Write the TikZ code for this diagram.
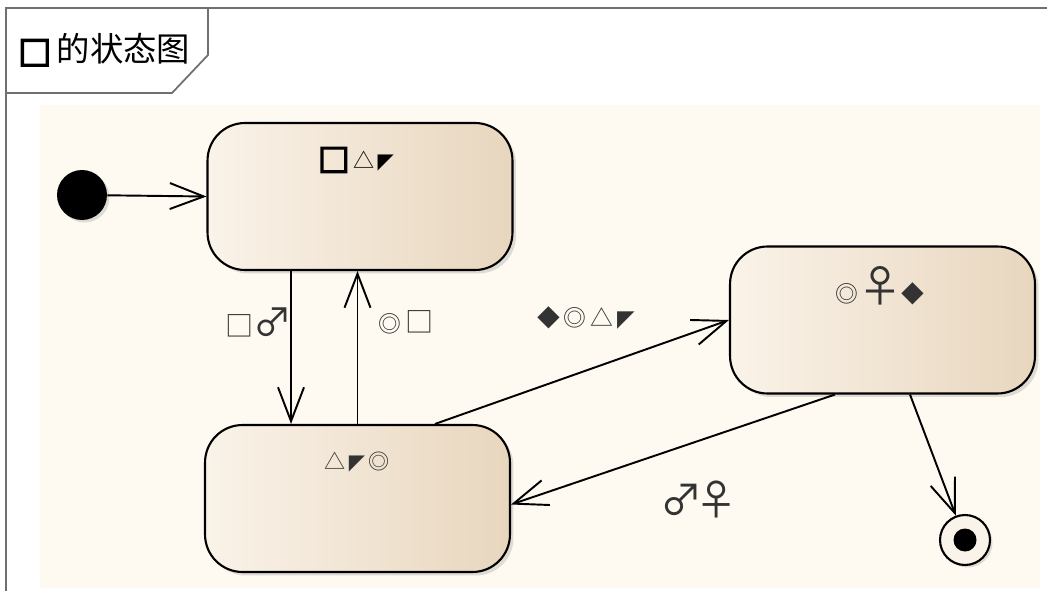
\documentclass[tikz,border=0pt]{standalone}
\usepackage{fontspec}
\usepackage{tikz}
\usetikzlibrary{arrows.meta,shadows}
\newfontfamily\cjk{Noto Sans CJK SC}
\newfontfamily\sym{DejaVu Sans}
\newfontfamily\symbold[FakeBold=4]{DejaVu Sans}
\definecolor{paper}{HTML}{FEFAF2}
\definecolor{stateL}{HTML}{FAF3E9}
\definecolor{stateR}{HTML}{E8D6BE}
\definecolor{frame}{HTML}{707070}

\begin{document}
\begin{tikzpicture}[x=0.02cm,y=-0.02cm,
  state/.style={draw,line width=1.2pt,rounded corners=0.75cm,minimum width=6.1cm,minimum height=2.94cm,
    left color=stateL,right color=stateR,
    drop shadow={shadow xshift=0.07cm,shadow yshift=-0.07cm,opacity=0.25}},
  trans/.style={line width=1.1pt,-{Straight Barb[length=0.68cm,width=0.52cm,line width=1.1pt]}},
  lbl/.style={font=\cjk\fontsize{16}{18}\selectfont,inner sep=1pt,text=black!80}]
  \useasboundingbox (0,0) rectangle (1047,591);
  \fill[white] (0,0) rectangle (1047,591);
  \fill[paper] (40,105) rectangle (1040,588);
  \draw[frame,line width=1pt] (6,591) -- (6,8) -- (1047,8);
  \draw[frame,line width=1pt] (6,93) -- (172,93) -- (208,55) -- (208,8);
  \node[anchor=west] (title) at (12,50) {{\symbold\fontsize{20}{22}\selectfont □}\kern3pt{\cjk\fontsize{19}{22}\selectfont 的状态图}};

  \node[state] (s1) at (360,196.5) {};
  \node[state] (s2) at (357.5,498.5) {};
  \node[state] (s3) at (882.5,320) {};
  \node[lbl,text=black] (s1t) at (356,160) {{\symbold\fontsize{19}{20}\selectfont □}\kern2pt{\fontsize{12}{14}\selectfont △}{\sym\fontsize{12}{14}\selectfont\,◤}};
  \node[lbl] (s2t) at (357,462) {{\fontsize{12}{14}\selectfont △}{\sym\fontsize{12}{14}\selectfont\,◤\,}{\fontsize{12}{14}\selectfont ◎}};
  \node[lbl] (s3t) at (880,286) {{\fontsize{13}{14}\selectfont ◎}{\fontsize{25}{26}\selectfont ♀}{\fontsize{13}{14}\selectfont ◆}};

  \node[circle,fill=black,minimum size=1cm,inner sep=0pt,
    drop shadow={shadow xshift=0.05cm,shadow yshift=-0.05cm,opacity=0.25}] (init) at (82,195) {};
  \node[circle,draw,line width=1.2pt,fill=stateL,minimum size=1cm,inner sep=0pt,
    drop shadow={shadow xshift=0.05cm,shadow yshift=-0.05cm,opacity=0.25}] (fin) at (965,540) {};
  \node[circle,fill=black,minimum size=0.46cm,inner sep=0pt] (findot) at (fin) {};

  \coordinate (d1) at ([xshift=-1.38cm]s1.south);
  \draw[trans] (init) -- (s1.west);
  \draw[trans] (d1) -- (d1 |- s2.north);
  \draw[trans] (s2.north) -- (s2.north |- s1.south);
  \draw[trans] ([xshift=1.55cm]s2.north) -- (s3.west);
  \draw[trans] ([xshift=-0.95cm]s3.south) -- ([yshift=-0.12cm]s2.east);
  \draw[trans] ([xshift=0.55cm]s3.south) -- (fin);

  \node[lbl] (t1) at (259,322) {□{\fontsize{22}{24}\selectfont ♂}};
  \node[lbl] (t2) at (406,322) {{\fontsize{13}{14}\selectfont ◎}\,□};
  \node[lbl] (t3) at (586,318) {{\fontsize{13}{14}\selectfont ◆\,◎\,△}{\sym\fontsize{13}{14}\selectfont\,◤}};
  \node[lbl] (t4) at (699,499) {\fontsize{24}{26}\selectfont ♂\kern-4pt♀};
\end{tikzpicture}
\end{document}
